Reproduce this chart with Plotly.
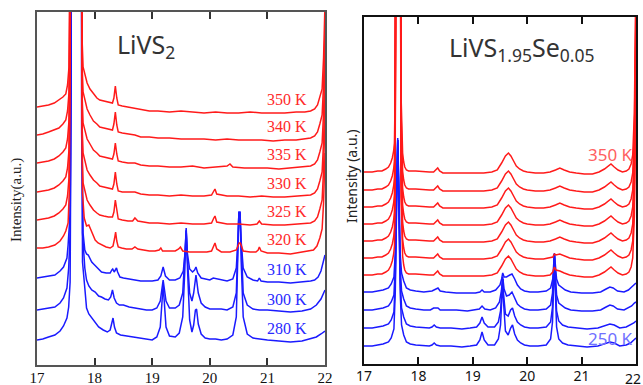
import plotly.graph_objects as go

# ---------------- data: left panel (LiVS2) ----------------
# each trace: list of [2theta, intensity above its own baseline]
L350 = [(17.00,6),(17.10,7),(17.20,8),(17.30,10),(17.38,13),(17.45,16),(17.50,19),(17.53,28),(17.555,46),(17.568,120),(17.585,500),(17.67,900),(17.758,500),(17.772,120),(17.785,70),(17.80,46),(17.84,36),(17.87,30),(17.92,24),(17.98,19),(18.04,15),(18.09,13),(18.16,12),(18.24,11),(18.31,10),(18.335,15),(18.36,27),(18.385,15),(18.41,8),(18.48,7),(18.58,6),(18.70,5),(18.80,4),(18.95,2),(19.10,2),(19.30,1),(19.50,2),(19.70,1),(19.90,0),(20.10,1),(20.30,0),(20.50,0),(20.70,1),(20.90,0),(21.10,0),(21.30,0),(21.50,1),(21.65,1),(21.75,2),(21.82,4),(21.87,8),(21.91,16),(21.95,24),(21.975,55),(22.00,110)]
L340 = [(17.00,5),(17.10,6),(17.20,8),(17.30,10),(17.38,12),(17.45,16),(17.50,20),(17.53,29),(17.555,47),(17.568,120),(17.585,500),(17.67,900),(17.758,500),(17.772,120),(17.785,72),(17.80,48),(17.84,37),(17.87,31),(17.92,25),(17.98,19),(18.04,16),(18.09,13),(18.16,12),(18.24,11),(18.31,10),(18.335,16),(18.36,28),(18.385,15),(18.41,8),(18.48,7),(18.58,6),(18.70,5),(18.80,3),(18.95,3),(19.10,2),(19.30,2),(19.50,1),(19.70,1),(19.90,1),(20.10,0),(20.30,1),(20.50,0),(20.70,0),(20.90,0),(21.10,-1),(21.30,0),(21.50,0),(21.65,1),(21.75,2),(21.82,4),(21.87,8),(21.91,16),(21.95,25),(21.975,55),(22.00,110)]
L335 = [(17.00,5),(17.10,6),(17.20,7),(17.30,9),(17.38,12),(17.45,16),(17.50,20),(17.53,29),(17.555,47),(17.568,120),(17.585,500),(17.67,900),(17.758,500),(17.772,120),(17.785,70),(17.80,45),(17.84,35),(17.87,29),(17.92,24),(17.98,18),(18.04,15),(18.09,12),(18.16,11),(18.24,10),(18.31,9),(18.335,14),(18.36,25),(18.385,14),(18.41,7),(18.48,6),(18.58,5),(18.70,5),(18.80,3),(18.95,2),(19.10,2),(19.30,1),(19.50,1),(19.70,2),(19.90,0),(20.10,1),(20.30,2),(20.35,4),(20.40,1),(20.60,0),(20.80,0),(21.00,0),(21.20,-1),(21.40,0),(21.60,1),(21.75,2),(21.82,4),(21.87,8),(21.91,16),(21.95,25),(21.975,55),(22.00,110)]
L330 = [(17.00,5),(17.10,6),(17.20,7),(17.30,9),(17.38,12),(17.45,16),(17.50,20),(17.53,29),(17.555,47),(17.568,120),(17.585,500),(17.67,900),(17.758,500),(17.772,120),(17.785,68),(17.80,44),(17.84,33),(17.87,27),(17.92,22),(17.98,17),(18.04,14),(18.09,11),(18.16,10),(18.24,9),(18.31,8),(18.335,13),(18.36,25),(18.385,13),(18.41,6),(18.48,5),(18.58,5),(18.70,5),(18.80,3),(18.95,2),(19.10,2),(19.30,1),(19.50,2),(19.70,1),(19.90,1),(20.03,2),(20.07,6),(20.09,8),(20.12,3),(20.30,1),(20.50,1),(20.70,0),(20.90,1),(21.10,0),(21.30,0),(21.50,1),(21.65,1),(21.75,2),(21.82,4),(21.87,8),(21.91,16),(21.95,25),(21.975,55),(22.00,110)]
L325 = [(17.00,5),(17.10,6),(17.20,7),(17.30,9),(17.38,12),(17.45,16),(17.50,20),(17.53,29),(17.555,47),(17.568,120),(17.585,500),(17.67,900),(17.758,500),(17.772,120),(17.785,66),(17.80,42),(17.84,31),(17.87,25),(17.92,20),(17.98,15),(18.04,12),(18.09,10),(18.16,9),(18.24,8),(18.31,8),(18.335,13),(18.36,25),(18.385,13),(18.41,6),(18.48,5),(18.58,4),(18.66,4),(18.70,7),(18.75,4),(18.85,3),(18.95,2),(19.10,2),(19.30,1),(19.50,2),(19.70,1),(19.90,1),(20.03,2),(20.07,7),(20.09,9),(20.12,3),(20.30,1),(20.50,1),(20.70,0),(20.82,1),(20.86,4),(20.90,1),(21.10,0),(21.30,0),(21.50,1),(21.65,1),(21.75,2),(21.82,4),(21.87,8),(21.91,16),(21.95,25),(21.975,55),(22.00,110)]
L320 = [(17.00,5),(17.10,5),(17.20,6),(17.31,8),(17.40,12),(17.46,17),(17.50,22),(17.54,30),(17.56,60),(17.57,150),(17.585,500),(17.67,900),(17.758,500),(17.775,150),(17.79,60),(17.82,35),(17.86,27),(17.90,28),(17.93,24),(17.97,18),(18.01,13),(18.06,10),(18.12,8),(18.20,6),(18.27,5),(18.32,7),(18.345,14),(18.365,21),(18.385,12),(18.41,6),(18.47,5),(18.55,4),(18.65,4),(18.70,6),(18.75,4),(18.85,3),(18.95,2),(19.05,2),(19.12,3),(19.15,5),(19.18,2),(19.30,2),(19.40,2),(19.46,4),(19.49,6),(19.53,2),(19.65,1),(19.80,1),(19.95,1),(20.03,2),(20.07,7),(20.09,10),(20.12,4),(20.20,1),(20.35,1),(20.46,3),(20.51,10),(20.53,10),(20.58,2),(20.70,1),(20.80,1),(20.84,3),(20.86,6),(20.89,2),(21.00,0),(21.20,0),(21.40,-1),(21.60,1),(21.72,2),(21.80,3),(21.86,7),(21.91,15),(21.95,24),(21.975,50),(22.00,100)]
L310 = [(17.00,5),(17.10,6),(17.20,7),(17.31,8),(17.40,12),(17.46,16),(17.52,25),(17.54,38),(17.575,70),(17.592,250),(17.60,700),(17.68,900),(17.762,700),(17.775,150),(17.785,90),(17.80,50),(17.83,33),(17.86,29),(17.89,28),(17.92,25),(17.95,21),(18.00,18),(18.04,16),(18.08,13),(18.12,11),(18.20,10),(18.27,10),(18.30,13),(18.315,14),(18.34,11),(18.36,13),(18.38,15),(18.40,11),(18.44,6),(18.50,5),(18.60,4),(18.70,3),(18.80,2),(18.90,2),(19.00,2),(19.10,3),(19.15,7),(19.19,16),(19.23,7),(19.30,3),(19.40,3),(19.48,5),(19.54,12),(19.57,30),(19.59,55),(19.61,30),(19.65,14),(19.70,11),(19.735,13),(19.76,16),(19.79,10),(19.85,5),(19.92,4),(20.00,3),(20.06,5),(20.20,3),(20.30,2),(20.40,4),(20.46,15),(20.49,45),(20.505,70),(20.525,70),(20.54,45),(20.58,15),(20.65,6),(20.75,3),(20.83,2),(20.86,5),(20.89,2),(21.00,1),(21.20,1),(21.40,0),(21.60,1),(21.75,2),(21.82,3),(21.88,6),(21.93,12),(21.97,22),(22.00,28)]
L300 = [(17.00,3),(17.10,4),(17.20,5),(17.31,6),(17.40,10),(17.46,15),(17.52,25),(17.55,45),(17.575,80),(17.592,250),(17.60,700),(17.68,900),(17.762,700),(17.775,180),(17.79,80),(17.83,45),(17.86,33),(17.90,27),(17.95,23),(18.01,21),(18.07,17),(18.12,16),(18.18,14),(18.24,13),(18.28,16),(18.31,23),(18.34,15),(18.38,10),(18.43,8),(18.50,8),(18.60,6),(18.70,5),(18.80,4),(18.90,3),(19.00,3),(19.08,5),(19.14,12),(19.19,33),(19.24,12),(19.30,5),(19.40,5),(19.47,8),(19.53,20),(19.57,55),(19.59,82),(19.61,55),(19.65,20),(19.69,12),(19.72,20),(19.76,38),(19.80,20),(19.85,10),(19.92,6),(20.00,4),(20.10,4),(20.20,4),(20.30,3),(20.40,6),(20.46,20),(20.49,70),(20.505,100),(20.525,100),(20.545,70),(20.58,20),(20.65,8),(20.75,4),(20.86,3),(21.00,3),(21.20,2),(21.40,1),(21.60,2),(21.75,4),(21.85,8),(21.93,14),(22.00,23)]
L280 = [(17.00,2),(17.10,3),(17.20,5),(17.31,7),(17.40,11),(17.46,16),(17.52,24),(17.55,35),(17.575,60),(17.592,250),(17.60,700),(17.68,900),(17.762,700),(17.775,160),(17.79,80),(17.83,54),(17.86,34),(17.90,28),(17.95,24),(18.01,19),(18.07,15),(18.15,12),(18.22,10),(18.27,12),(18.30,18),(18.32,24),(18.345,15),(18.38,9),(18.45,7),(18.55,6),(18.65,5),(18.75,4),(18.85,3),(19.00,2),(19.08,5),(19.14,15),(19.17,40),(19.19,57),(19.21,40),(19.24,15),(19.30,6),(19.40,5),(19.47,9),(19.53,25),(19.565,70),(19.59,112),(19.615,70),(19.65,22),(19.69,10),(19.72,17),(19.75,32),(19.77,33),(19.80,18),(19.85,8),(19.92,4),(20.00,3),(20.10,3),(20.20,2),(20.30,3),(20.40,7),(20.46,25),(20.49,80),(20.505,130),(20.525,130),(20.545,80),(20.58,25),(20.65,8),(20.75,4),(20.86,3),(21.00,2),(21.20,1),(21.40,0),(21.60,1),(21.75,3),(21.85,5),(21.93,8),(22.00,11)]

LEFT_LABELS = ["350 K", "340 K", "335 K", "330 K", "325 K", "320 K", "310 K", "300 K", "280 K"]
LEFT_TRACES = [L350, L340, L335, L330, L325, L320, L310, L300, L280]
LEFT_OFFSETS = [252, 225, 197, 168, 140, 112, 82, 52, 23]
LEFT_PHASE = ["hi", "hi", "hi", "hi", "hi", "hi", "lo", "lo", "lo"]

# ---------------- data: right panel (LiVS1.95Se0.05) ----------------
R_HI = [(17.00,1),(17.15,1),(17.25,2),(17.33,2),(17.40,4),(17.45,6),(17.49,10),(17.52,15),(17.545,22),(17.56,30),(17.572,80),(17.585,500),(17.625,900),(17.665,500),(17.68,80),(17.695,35),(17.71,20),(17.73,11),(17.75,6),(17.78,3),(17.82,2),(17.95,2),(18.10,1),(18.20,1),(18.28,1),(18.32,3),(18.355,5),(18.39,2),(18.45,0),(18.60,0),(18.80,0),(19.00,0),(19.20,0),(19.35,1),(19.45,3),(19.53,10),(19.60,17),(19.655,20),(19.70,17),(19.75,12),(19.80,7),(19.86,4),(19.93,2),(20.00,1),(20.15,0),(20.30,0),(20.42,1),(20.52,3),(20.60,5),(20.68,3),(20.78,1),(20.90,0),(21.05,-1),(21.20,-1),(21.32,1),(21.42,4),(21.50,8),(21.54,9),(21.60,6),(21.67,3),(21.75,1),(21.82,2),(21.87,4),(21.91,9),(21.94,18),(21.97,60),(22.00,200)]
R_HI6 = [(17.00,1),(17.15,1),(17.25,2),(17.33,2),(17.40,4),(17.45,6),(17.49,10),(17.52,15),(17.545,22),(17.56,30),(17.572,80),(17.585,500),(17.625,900),(17.665,500),(17.68,80),(17.695,35),(17.71,20),(17.73,11),(17.75,6),(17.78,3),(17.82,2),(17.95,2),(18.10,1),(18.20,1),(18.28,1),(18.32,3),(18.355,5),(18.39,2),(18.45,0),(18.60,0),(18.80,0),(19.00,0),(19.20,0),(19.35,1),(19.45,3),(19.53,10),(19.60,17),(19.655,20),(19.70,17),(19.75,12),(19.80,7),(19.86,4),(19.93,2),(20.00,1),(20.15,0),(20.30,0),(20.42,1),(20.47,2),(20.50,5),(20.53,4),(20.60,5),(20.68,3),(20.78,1),(20.90,0),(21.05,-1),(21.20,-1),(21.32,1),(21.42,4),(21.50,8),(21.54,9),(21.60,6),(21.67,3),(21.75,1),(21.82,2),(21.87,4),(21.91,9),(21.94,18),(21.97,60),(22.00,200)]
R_HI7 = [(17.00,1),(17.15,1),(17.25,2),(17.33,2),(17.40,4),(17.45,6),(17.49,10),(17.52,15),(17.545,22),(17.56,30),(17.572,80),(17.585,500),(17.625,900),(17.665,500),(17.68,80),(17.695,35),(17.71,20),(17.73,11),(17.75,6),(17.78,3),(17.82,2),(17.95,2),(18.10,1),(18.20,1),(18.28,1),(18.32,3),(18.355,5),(18.39,2),(18.45,0),(18.60,0),(18.80,0),(19.00,0),(19.20,0),(19.35,1),(19.45,3),(19.53,10),(19.60,17),(19.655,20),(19.70,17),(19.75,12),(19.80,7),(19.86,4),(19.93,2),(20.00,1),(20.15,0),(20.30,0),(20.42,1),(20.47,4),(20.50,9),(20.53,6),(20.60,5),(20.68,3),(20.78,1),(20.90,0),(21.05,-1),(21.20,-1),(21.32,1),(21.42,4),(21.50,8),(21.54,9),(21.60,6),(21.67,3),(21.75,1),(21.82,2),(21.87,4),(21.91,9),(21.94,18),(21.97,60),(22.00,200)]
R_B1 = [(17.00,1),(17.15,1),(17.25,2),(17.35,3),(17.45,5),(17.50,9),(17.55,16),(17.575,40),(17.60,110),(17.62,155),(17.64,110),(17.665,40),(17.69,20),(17.73,12),(17.78,5),(17.85,3),(17.95,2),(18.10,1),(18.25,2),(18.29,3),(18.33,4),(18.36,5),(18.40,2),(18.50,1),(18.70,0),(18.90,0),(19.05,0),(19.13,1),(19.17,3),(19.21,1),(19.32,1),(19.42,3),(19.50,8),(19.53,14),(19.55,20),(19.575,16),(19.62,16),(19.68,18),(19.72,19),(19.77,14),(19.82,8),(19.88,4),(19.95,2),(20.05,1),(20.20,1),(20.35,2),(20.43,5),(20.47,14),(20.49,30),(20.50,40),(20.515,30),(20.54,14),(20.58,8),(20.63,6),(20.70,3),(20.80,1),(21.00,0),(21.20,0),(21.35,1),(21.45,4),(21.52,6),(21.58,5),(21.66,2),(21.78,1),(21.86,3),(21.92,6),(21.97,9),(22.00,10)]
R_B2 = [(17.00,1),(17.15,1),(17.25,2),(17.35,3),(17.45,5),(17.50,9),(17.55,16),(17.575,45),(17.60,120),(17.62,171),(17.64,120),(17.665,45),(17.69,20),(17.73,12),(17.78,5),(17.85,3),(17.95,2),(18.10,1),(18.22,1),(18.28,3),(18.32,3),(18.36,3),(18.40,1),(18.50,1),(18.70,1),(18.90,0),(19.05,1),(19.12,2),(19.17,5),(19.22,2),(19.32,1),(19.42,3),(19.49,9),(19.525,20),(19.55,34),(19.575,22),(19.62,15),(19.67,16),(19.72,19),(19.77,13),(19.82,7),(19.88,4),(19.95,2),(20.05,1),(20.20,1),(20.35,2),(20.43,6),(20.465,18),(20.485,40),(20.50,57),(20.515,40),(20.54,16),(20.58,8),(20.63,6),(20.70,3),(20.80,1),(21.00,0),(21.20,0),(21.35,1),(21.45,4),(21.52,6),(21.58,5),(21.66,2),(21.78,1),(21.86,3),(21.92,5),(21.97,8),(22.00,9)]
R_B3 = [(17.00,1),(17.15,1),(17.25,2),(17.35,3),(17.45,5),(17.50,9),(17.55,17),(17.575,50),(17.60,130),(17.62,189),(17.64,130),(17.665,50),(17.69,21),(17.73,12),(17.78,5),(17.85,3),(17.95,2),(18.10,1),(18.20,1),(18.25,2),(18.29,4),(18.33,2),(18.40,1),(18.60,1),(18.80,0),(18.95,1),(19.07,2),(19.13,6),(19.17,12),(19.21,6),(19.28,2),(19.40,2),(19.47,7),(19.51,18),(19.535,35),(19.55,50),(19.565,35),(19.60,15),(19.65,13),(19.695,19),(19.73,21),(19.77,13),(19.82,7),(19.88,4),(19.95,2),(20.05,1),(20.20,1),(20.35,2),(20.43,7),(20.465,22),(20.485,50),(20.50,75),(20.515,50),(20.54,18),(20.58,8),(20.65,4),(20.75,2),(20.90,1),(21.10,0),(21.30,1),(21.42,3),(21.52,5),(21.60,4),(21.70,1),(21.82,2),(21.90,4),(21.96,6),(22.00,8)]
R_B4 = [(17.00,1),(17.15,1),(17.25,2),(17.35,3),(17.45,5),(17.50,9),(17.55,18),(17.575,55),(17.60,140),(17.62,207),(17.64,140),(17.665,55),(17.69,22),(17.73,12),(17.78,5),(17.85,3),(17.95,2),(18.10,1),(18.20,1),(18.25,2),(18.29,4),(18.33,2),(18.40,1),(18.60,1),(18.80,0),(18.95,1),(19.07,2),(19.13,7),(19.17,15),(19.21,7),(19.28,2),(19.40,2),(19.47,8),(19.51,22),(19.535,45),(19.55,68),(19.565,45),(19.60,16),(19.65,12),(19.695,19),(19.73,22),(19.77,13),(19.82,7),(19.88,4),(19.95,2),(20.05,1),(20.20,1),(20.35,2),(20.43,8),(20.465,25),(20.485,60),(20.50,93),(20.515,60),(20.54,20),(20.58,8),(20.65,4),(20.75,2),(20.90,1),(21.10,0),(21.30,1),(21.42,3),(21.52,5),(21.60,4),(21.70,1),(21.82,2),(21.90,4),(21.96,7),(22.00,9)]

RIGHT_TRACES = [R_HI, R_HI, R_HI, R_HI, R_HI, R_HI6, R_HI7, R_B1, R_B2, R_B3, R_B4]
RIGHT_OFFSETS = [191, 173, 156, 139, 122, 105, 88, 71, 53, 35, 17]
RIGHT_PHASE = ["hi"] * 7 + ["lo"] * 4
RIGHT_LABELS = ["350 K", "250 K"]
RIGHT_LABEL_Y = [210, 26]

X_TICKS = [17, 18, 19, 20, 21, 22]

RED = "#ff1a1a"
BLUE = "#1a1aff"

fig = go.Figure()


def add_panel(traces, offsets, phases, xa, ya):
    order = [i for i in range(len(traces)) if phases[i] == "lo"] + \
            [i for i in range(len(traces)) if phases[i] == "hi"]
    for i in order:
        pts = traces[i]
        fig.add_trace(go.Scatter(
            x=[p[0] for p in pts],
            y=[offsets[i] + p[1] for p in pts],
            mode="lines",
            line=dict(color=RED if phases[i] == "hi" else BLUE, width=1.5),
            xaxis=xa, yaxis=ya, showlegend=False, hoverinfo="skip"))


add_panel(LEFT_TRACES, LEFT_OFFSETS, LEFT_PHASE, "x", "y")
add_panel(RIGHT_TRACES, RIGHT_OFFSETS, RIGHT_PHASE, "x2", "y2")

W, H = 643, 385
serif = "Liberation Serif, Times New Roman, serif"
sans = "Noto Sans, Liberation Sans, Arial, sans-serif"

axis_common = dict(range=[17, 22], ticks="inside", ticklen=7,
                   tickwidth=1.5, showline=True, linewidth=2, mirror="ticks",
                   showgrid=False, zeroline=False, automargin=False,
                   ticklabelstandoff=-2)
yaxis_common = dict(showline=True, linewidth=2, mirror=True, ticks="",
                    showticklabels=False, showgrid=False, zeroline=False,
                    automargin=False)

# the right panel's last tick label sits on the page edge, where plotly drops it;
# it is drawn as an annotation instead
fig.update_layout(
    width=W, height=H, margin=dict(l=0, r=0, t=0, b=0, pad=0, autoexpand=False),
    plot_bgcolor="white", paper_bgcolor="white", showlegend=False,
    xaxis=dict(axis_common, tickvals=X_TICKS, domain=[37 / W, 325 / W], linecolor="#555",
               tickcolor="#333", tickfont=dict(family=serif, size=15, color="#111"), anchor="y"),
    yaxis=dict(yaxis_common, domain=[(H - 365) / H, (H - 12) / H], range=[0, 353],
               linecolor="#555", anchor="x"),
    xaxis2=dict(axis_common, tickvals=X_TICKS, ticktext=[str(t) for t in X_TICKS[:-1]] + [""],
                domain=[364 / W, 636 / W], linecolor="#111", tickcolor="#111",
                tickfont=dict(family=sans, size=14, color="#111"), anchor="y2"),
    yaxis2=dict(yaxis_common, domain=[(H - 364) / H, (H - 17) / H], range=[0, 347],
                linecolor="#111", anchor="x2"),
)

ann = []
for i, lab in enumerate(LEFT_LABELS):
    ann.append(dict(x=21.34, y=LEFT_OFFSETS[i] + 14, xref="x", yref="y", text=lab,
                    showarrow=False, xanchor="center", yanchor="middle",
                    font=dict(family=serif, size=16,
                              color="#ff2a2a" if LEFT_PHASE[i] == "hi" else "#2a2aff")))
for lab, yv, col in zip(RIGHT_LABELS, RIGHT_LABEL_Y, ["#ff6060", "#7070ff"]):
    ann.append(dict(x=21.54, y=yv, xref="x2", yref="y2", text=lab, showarrow=False,
                    xanchor="center", yanchor="middle",
                    font=dict(family=sans, size=17, color=col)))

ann.append(dict(x=1.0, y=1 - 378 / H, xref="paper", yref="paper", text=str(X_TICKS[-1]),
                showarrow=False, xanchor="right", yanchor="middle",
                font=dict(family=sans, size=14, color="#111")))

ann.append(dict(x=146 / W, y=1 - 45 / H, xref="paper", yref="paper",
                text="LiVS<sub>2</sub>", showarrow=False, xanchor="center", yanchor="middle",
                font=dict(family=sans, size=25, color="#333")))
ann.append(dict(x=522 / W, y=1 - 48 / H, xref="paper", yref="paper",
                text="LiVS<sub>1.95</sub>Se<sub>0.05</sub>", showarrow=False,
                xanchor="center", yanchor="middle",
                font=dict(family=sans, size=25, color="#333")))
ann.append(dict(x=17 / W, y=1 - 200 / H, xref="paper", yref="paper",
                text="Intensity(a.u.)", showarrow=False, textangle=-90,
                xanchor="center", yanchor="middle",
                font=dict(family=serif, size=15, color="#222")))
ann.append(dict(x=352 / W, y=1 - 176 / H, xref="paper", yref="paper",
                text="Intensity (a.u.)", showarrow=False, textangle=-90,
                xanchor="center", yanchor="middle",
                font=dict(family=sans, size=14, color="#222")))
fig.update_layout(annotations=ann)

# remove the browser's default 8px page margin so the figure sits at (0, 0)
fig.write_html("out.html", config={"displayModeBar": False},
               post_script="document.body.style.margin='0';")
